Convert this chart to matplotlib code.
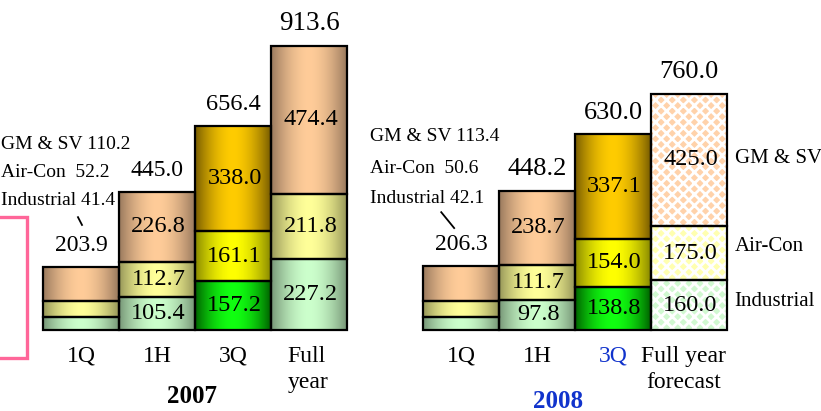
import matplotlib
matplotlib.use("Agg")

import matplotlib.pyplot as plt
import numpy as np
from matplotlib.patches import Rectangle

plt.rcParams['font.family'] = ['Liberation Serif', 'DejaVu Serif']
plt.rcParams['hatch.linewidth'] = 2.0

# data
periods_2007 = ["1Q", "1H", "3Q", "Full\nyear"]
periods_2008 = ["1Q", "1H", "3Q", "Full year\nforecast"]
industrial_2007 = [41.4, 105.4, 157.2, 227.2]
aircon_2007 = [52.2, 112.7, 161.1, 211.8]
gmsv_2007 = [110.2, 226.8, 338.0, 474.4]
total_2007 = [203.9, 445.0, 656.4, 913.6]
industrial_2008 = [42.1, 97.8, 138.8, 160.0]
aircon_2008 = [50.6, 111.7, 154.0, 175.0]
gmsv_2008 = [113.4, 238.7, 337.1, 425.0]
total_2008 = [206.3, 448.2, 630.0, 760.0]
segment_names = ["GM & SV", "Air-Con", "Industrial"]

# colours: (centre, edge) for each segment, bottom to top
pale = [("#CCFFCC", "#789878"), ("#FFFF99", "#98985A"), ("#FFCC99", "#9A7A5E")]
bright = [("#11FF11", "#006400"), ("#FFFF00", "#8A8A00"), ("#FFCC00", "#7A5E00")]
hatch_bg = ["#D0F8D0", "#FFFFB0", "#FFD2AA"]

fig = plt.figure(figsize=(8.21, 4.11), dpi=100)
ax = fig.add_axes([0, 0, 1, 1])
ax.axis("off")

W = 1.0


def outline(x, y0, h):
    ax.add_patch(Rectangle((x - W / 2, y0), W, h, fill=False,
                           edgecolor="black", lw=1.6, zorder=3))


def gradient_seg(x, y0, h, centre, edge):
    n = 64
    t = np.abs(np.linspace(-1, 1, n)) ** 1.8
    c = np.array(matplotlib.colors.to_rgb(centre))
    e = np.array(matplotlib.colors.to_rgb(edge))
    img = (c[None, :] * (1 - t[:, None]) + e[None, :] * t[:, None])[None, :, :]
    ax.imshow(img, extent=(x - W / 2, x + W / 2, y0, y0 + h),
              aspect="auto", interpolation="bilinear", zorder=1)
    outline(x, y0, h)


def draw_group(xs, segs, totals, styles, total_sizes):
    for i, x in enumerate(xs):
        bottom = 0
        for k in range(3):
            v = segs[k][i]
            st = styles[i]
            if st == "hatch":
                ax.bar(x, v, W, bottom=bottom, color=hatch_bg[k],
                       edgecolor="white", hatch="xxx", lw=0, zorder=1)
                outline(x, bottom, v)
            else:
                cols = pale if st == "pale" else bright
                gradient_seg(x, bottom, v, *cols[k])
            if i > 0:
                ax.text(x + 0.02, bottom + v / 2, f"{v:.1f}", ha="center",
                        va="center", fontsize=17.5, zorder=4)
            bottom += v
        ax.text(x, bottom + 50, f"{totals[i]:.1f}", ha="center",
                va="baseline", fontsize=total_sizes[i], zorder=4)


x2007 = [0, 1, 2, 3]
x2008 = [5, 6, 7, 8]
draw_group(x2007, [industrial_2007, aircon_2007, gmsv_2007], total_2007,
           ["pale", "pale", "bright", "pale"], [17, 17, 17.5, 19.5])
draw_group(x2008, [industrial_2008, aircon_2008, gmsv_2008], total_2008,
           ["pale", "pale", "bright", "hatch"], [17, 19, 19, 19])

# breakdown notes for 1Q
notes_2007 = [f"GM & SV {gmsv_2007[0]:.1f}", f"Air-Con  {aircon_2007[0]:.1f}",
              f"Industrial {industrial_2007[0]:.1f}"]
notes_2008 = [f"GM & SV {gmsv_2008[0]:.1f}", f"Air-Con  {aircon_2008[0]:.1f}",
              f"Industrial {industrial_2008[0]:.1f}"]
for s, yv in zip(notes_2007, [595, 508, 418]):
    ax.text(-1.055, yv, s, ha="left", va="center", fontsize=14)
for s, yv in zip(notes_2008, [621, 521, 424]):
    ax.text(3.8, yv, s, ha="left", va="center", fontsize=14)
ax.plot([-0.04, 0.013], [363, 338], color="black", lw=1.3)
ax.plot([4.74, 4.91], [379, 328], color="black", lw=1.3)

# segment names at right
for s, yv in zip(segment_names, [553, 270, 93]):
    ax.text(8.6, yv, s, ha="left", va="center", fontsize=15)

# x labels
for xs, labels in [(x2007, periods_2007), (x2008, periods_2008)]:
    for x, s in zip(xs, labels):
        col = "#1133CC" if (s == "3Q" and xs is x2008) else "black"
        lines = s.split("\n")
        ha = "center"
        xx = x
        if s == "Full\nyear":
            ha = "left"
            xx = x - 0.28
        elif len(lines) > 1:
            xx = x - 0.07
        ax.text(xx, -84, lines[0], ha=ha, va="center", fontsize=17,
                color=col)
        if len(lines) > 1:
            ax.text(xx, -170, lines[1], ha=ha, va="center", fontsize=17,
                    color=col)
ax.text(1.46, -215, "2007", ha="center", va="center", fontsize=18,
        fontweight="bold")
ax.text(6.28, -228, "2008", ha="center", va="center", fontsize=18,
        fontweight="bold", color="#1133CC")

# pink frame cut at the left edge
ax.add_patch(Rectangle((-1.4, -90), 0.69, 453, fill=False,
                       edgecolor="#FF6699", lw=2.4, zorder=2))

ax.set_xlim(-1.066, 9.737)
ax.set_ylim(-260, 1061)

fig.savefig("out.png", dpi=100)
